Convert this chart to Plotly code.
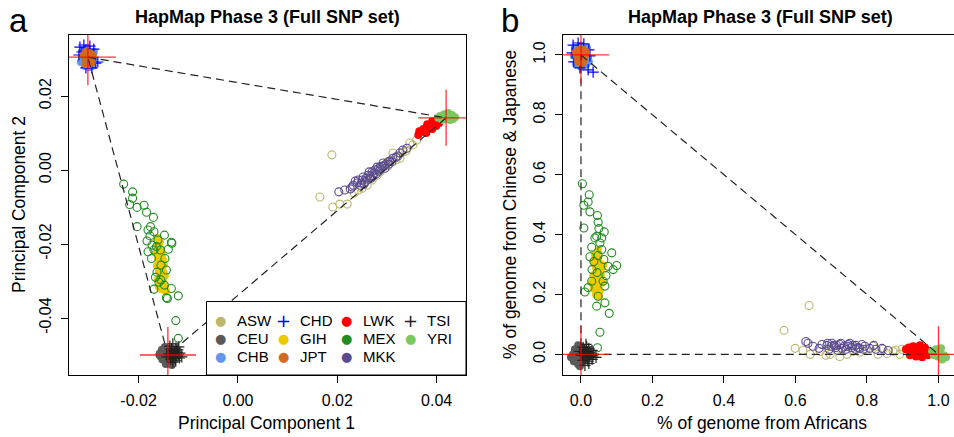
import plotly.graph_objects as go

W, H = 954, 437
FONT = "Liberation Sans, Arial, Helvetica, sans-serif"

# ---------------- populations ----------------
POPS = ["ASW", "CEU", "CHB", "CHD", "GIH", "JPT", "LWK", "MEX", "MKK", "TSI", "YRI"]
COLORS = {"ASW": "#BDB76B", "CEU": "#5A5A5A", "CHB": "#6495ED", "CHD": "#0000FF",
          "GIH": "#EEC900", "JPT": "#D2691E", "LWK": "#FF0000", "MEX": "#228B22",
          "MKK": "#5A4A8F", "TSI": "#222222", "YRI": "#79C95F"}
KIND = {"ASW": "open", "CEU": "fill", "CHB": "fill", "CHD": "plus", "GIH": "fill",
        "JPT": "fill", "LWK": "fill", "MEX": "open", "MKK": "open", "TSI": "plus", "YRI": "fill"}

# ---------------- panel a : principal components ----------------
a_asw_pc1 = [0.0189, 0.0165, 0.0191, 0.0205, 0.0220, 0.0242, 0.0260, 0.0280, 0.0296, 0.0312, 0.0332,
             0.0346, 0.0360, 0.0352, 0.0250, 0.0270, 0.0286, 0.0318, 0.0338, 0.0234, 0.0302, 0.0326]
a_asw_pc2 = [0.0041, -0.0073, -0.0100, -0.0092, -0.0092, -0.0054, -0.0041, -0.0014, 0.0014, 0.0046, 0.0049,
             0.0073, 0.0081, 0.0068, -0.0049, -0.0027, -0.0005, 0.0027, 0.0051, -0.0062, 0.0011, 0.0032]

a_ceu_pc1 = [-0.0153, -0.0147, -0.0141, -0.0151, -0.0145, -0.0139, -0.0149, -0.0143, -0.0135, -0.0155,
             -0.0137, -0.0145, -0.0133, -0.0157, -0.0148, -0.0152, -0.0140, -0.0146, -0.0158]
a_ceu_pc2 = [-0.0486, -0.0478, -0.0484, -0.0500, -0.0495, -0.0503, -0.0511, -0.0516, -0.0508, -0.0505,
             -0.0492, -0.0524, -0.0527, -0.0495, -0.0490, -0.0512, -0.0495, -0.0505, -0.0500]

a_chb_pc1 = [-0.0312, -0.0304, -0.0314, -0.0292, -0.0308, -0.0290, -0.0298, -0.0294, -0.0316, -0.0296]
a_chb_pc2 = [0.0324, 0.0330, 0.0305, 0.0300, 0.0281, 0.0319, 0.0278, 0.0281, 0.0292, 0.0286]

a_chd_pc1 = [-0.0318, -0.0310, -0.0314, -0.0298, -0.0286, -0.0282, -0.0306, -0.0294, -0.0320, -0.0290]
a_chd_pc2 = [0.0332, 0.0338, 0.0319, 0.0335, 0.0289, 0.0292, 0.0276, 0.0276, 0.0311, 0.0327]

a_gih_pc1 = [-0.0161, -0.0157, -0.0163, -0.0155, -0.0159, -0.0153, -0.0161, -0.0151, -0.0157, -0.0163,
             -0.0153, -0.0159, -0.0149, -0.0155, -0.0161, -0.0151, -0.0157, -0.0147, -0.0153, -0.0145,
             -0.0159, -0.0149, -0.0165, -0.0147]
a_gih_pc2 = [-0.0184, -0.0195, -0.0205, -0.0214, -0.0222, -0.0230, -0.0238, -0.0243, -0.0251, -0.0259,
             -0.0265, -0.0273, -0.0278, -0.0286, -0.0295, -0.0300, -0.0308, -0.0314, -0.0322, -0.0327,
             -0.0316, -0.0257, -0.0224, -0.0286]

a_jpt_pc1 = [-0.0306, -0.0298, -0.0302, -0.0308, -0.0296, -0.0304, -0.0294, -0.0310, -0.0300, -0.0292,
             -0.0306, -0.0298]
a_jpt_pc2 = [0.0319, 0.0316, 0.0308, 0.0303, 0.0303, 0.0295, 0.0292, 0.0311, 0.0286, 0.0311, 0.0286, 0.0297]

a_lwk_pc1 = [0.0363, 0.0369, 0.0375, 0.0379, 0.0385, 0.0389, 0.0395, 0.0401, 0.0407, 0.0413, 0.0373,
             0.0381, 0.0391, 0.0399, 0.0365, 0.0405, 0.0379, 0.0391]
a_lwk_pc2 = [0.0095, 0.0103, 0.0105, 0.0114, 0.0116, 0.0122, 0.0124, 0.0130, 0.0135, 0.0138, 0.0111,
             0.0124, 0.0132, 0.0119, 0.0105, 0.0127, 0.0100, 0.0111]

a_mex_pc1 = [-0.0230, -0.0212, -0.0212, -0.0218, -0.0203, -0.0189, -0.0184, -0.0170, -0.0203, -0.0176,
             -0.0181, -0.0169, -0.0148, -0.0183, -0.0161, -0.0134, -0.0181, -0.0169, -0.0156, -0.0140,
             -0.0174, -0.0147, -0.0166, -0.0144, -0.0155, -0.0148, -0.0169, -0.0134, -0.0144, -0.0120,
             -0.0125, -0.0120, -0.0164, -0.0133, -0.0142, -0.0155, -0.0163, -0.0177, -0.0173, -0.0159]
a_mex_pc2 = [-0.0038, -0.0059, -0.0076, -0.0093, -0.0101, -0.0095, -0.0114, -0.0128, -0.0153, -0.0153,
             -0.0162, -0.0167, -0.0176, -0.0192, -0.0189, -0.0195, -0.0221, -0.0216, -0.0216, -0.0214,
             -0.0239, -0.0239, -0.0290, -0.0270, -0.0297, -0.0311, -0.0322, -0.0320, -0.0345, -0.0340,
             -0.0407, -0.0455, -0.0207, -0.0198, -0.0347, -0.0257, -0.0276, -0.0178, -0.0203, -0.0303]

a_mkk_pc1 = [0.0203, 0.0226, 0.0232, 0.0242, 0.0252, 0.0262, 0.0270, 0.0276, 0.0286, 0.0292, 0.0302,
             0.0312, 0.0326, 0.0332, 0.0240, 0.0250, 0.0258, 0.0266, 0.0274, 0.0282, 0.0290, 0.0298,
             0.0306, 0.0318, 0.0246, 0.0256, 0.0268, 0.0278, 0.0296, 0.0310, 0.0322, 0.0340, 0.0215, 0.0264,
             0.0236, 0.0248, 0.0260, 0.0272, 0.0284, 0.0294, 0.0304, 0.0254, 0.0280, 0.0230]
a_mkk_pc2 = [-0.0059, -0.0051, -0.0041, -0.0027, -0.0019, -0.0014, -0.0005, 0.0000, 0.0008, 0.0019, 0.0022,
             0.0032, 0.0046, 0.0054, -0.0035, -0.0027, -0.0022, -0.0016, -0.0008, 0.0003, 0.0011, 0.0016,
             0.0024, 0.0035, -0.0041, -0.0032, -0.0022, -0.0011, 0.0005, 0.0022, 0.0038, 0.0059, -0.0054, -0.0005,
             -0.0030, -0.0035, -0.0027, -0.0016, -0.0003, 0.0011, 0.0016, -0.0038, 0.0008, -0.0046]

a_tsi_pc1 = [-0.0137, -0.0131, -0.0125, -0.0133, -0.0127, -0.0121, -0.0139, -0.0129, -0.0123, -0.0117,
             -0.0135, -0.0125, -0.0113, -0.0143, -0.0131, -0.0119, -0.0128, -0.0122, -0.0130, -0.0134,
             -0.0126, -0.0120, -0.0136, -0.0132, -0.0124, -0.0118]
a_tsi_pc2 = [-0.0476, -0.0470, -0.0481, -0.0489, -0.0495, -0.0486, -0.0497, -0.0505, -0.0503, -0.0495,
             -0.0511, -0.0516, -0.0505, -0.0505, -0.0519, -0.0478, -0.0490, -0.0492, -0.0498, -0.0483,
             -0.0510, -0.0500, -0.0502, -0.0508, -0.0487, -0.0508]

a_yri_pc1 = [0.0407, 0.0415, 0.0423, 0.0431, 0.0437, 0.0419, 0.0427, 0.0411, 0.0433, 0.0421, 0.0403]
a_yri_pc2 = [0.0146, 0.0151, 0.0154, 0.0149, 0.0143, 0.0141, 0.0135, 0.0135, 0.0138, 0.0146, 0.0141]

a_vertex_pc1 = [-0.0302, 0.0419, -0.0141]
a_vertex_pc2 = [0.0305, 0.0141, -0.0500]

# ---------------- panel b : ancestry proportions ----------------
b_asw_afr = [0.638, 0.568, 0.599, 0.621, 0.641, 0.697, 0.724, 0.817, 0.845, 0.873, 0.892, 0.744, 0.780,
             0.856, 0.881, 0.669, 0.797, 0.898, 0.685, 0.761, 0.831]
b_asw_eas = [0.163, 0.080, 0.020, 0.013, 0.000, 0.000, -0.007, 0.027, 0.017, 0.010, 0.000, 0.000, 0.007,
             0.003, 0.013, 0.010, 0.017, 0.017, -0.003, 0.010, 0.000]

b_ceu_afr = [-0.017, -0.008, -0.022, -0.011, -0.003, -0.014, -0.006, -0.020, -0.008, 0.003, 0.006, -0.028,
             -0.003, -0.010, -0.015, -0.005, -0.012, 0.000, -0.018]
b_ceu_eas = [0.017, 0.030, 0.000, 0.007, 0.017, -0.013, -0.007, -0.023, -0.033, -0.020, 0.010, -0.010,
             -0.040, 0.000, 0.010, -0.015, -0.025, 0.025, -0.003]

b_chb_afr = [-0.017, -0.003, 0.017, -0.020, 0.020, -0.014, 0.014, 0.000, 0.022]
b_chb_eas = [1.023, 1.030, 1.023, 0.997, 0.990, 0.970, 0.967, 0.960, 0.977]

b_chd_afr = [-0.022, -0.008, 0.008, 0.022, -0.025, -0.003, 0.020, 0.034, -0.020, 0.025]
b_chd_eas = [1.033, 1.040, 1.037, 1.017, 1.007, 0.957, 0.950, 0.943, 0.977, 0.997]

b_gih_afr = [0.039, 0.048, 0.036, 0.053, 0.042, 0.056, 0.045, 0.034, 0.050, 0.039, 0.059, 0.045, 0.036,
             0.053, 0.042, 0.062, 0.048, 0.031, 0.050, 0.056]
b_gih_eas = [0.333, 0.323, 0.310, 0.303, 0.290, 0.283, 0.273, 0.263, 0.257, 0.247, 0.240, 0.230, 0.220,
             0.213, 0.200, 0.297, 0.347, 0.240, 0.193, 0.263]

b_jpt_afr = [-0.006, 0.006, 0.000, -0.011, 0.011, -0.003, 0.008, -0.014, 0.014, 0.003, -0.008]
b_jpt_eas = [1.017, 1.017, 1.003, 0.997, 0.997, 0.987, 0.983, 1.010, 1.010, 0.973, 0.977]

b_lwk_afr = [0.909, 0.917, 0.926, 0.934, 0.943, 0.951, 0.959, 0.968, 0.920, 0.937, 0.954, 0.970, 0.929,
             0.948, 0.962]
b_lwk_eas = [0.017, 0.023, 0.010, 0.020, 0.007, 0.017, 0.003, 0.013, -0.003, -0.007, -0.010, -0.003,
             0.027, 0.030, 0.023]

b_mex_afr = [0.004, 0.023, 0.020, 0.008, 0.025, 0.046, 0.048, 0.008, 0.065, 0.039, 0.058, 0.030, 0.053,
             0.058, 0.025, 0.048, 0.086, 0.100, 0.076, 0.090, 0.030, 0.062, 0.011, 0.067, 0.048, 0.044,
             0.067, 0.079, 0.053, 0.046, 0.044, 0.036, 0.045, 0.064, 0.031, 0.070, 0.050, 0.020]
b_mex_eas = [0.570, 0.533, 0.509, 0.498, 0.476, 0.464, 0.441, 0.422, 0.409, 0.389, 0.389, 0.358, 0.372,
             0.350, 0.326, 0.330, 0.339, 0.297, 0.294, 0.283, 0.244, 0.244, 0.208, 0.228, 0.194, 0.161,
             0.172, 0.137, 0.074, 0.022, 0.394, 0.310, 0.273, 0.317, 0.283, 0.263, 0.420, 0.223]

b_mkk_afr = [0.629, 0.635, 0.649, 0.674, 0.688, 0.702, 0.713, 0.724, 0.736, 0.747, 0.758, 0.769, 0.780,
             0.794, 0.808, 0.825, 0.842, 0.859, 0.694, 0.719, 0.741, 0.708, 0.752, 0.666, 0.786, 0.819,
             0.700, 0.715, 0.730, 0.745, 0.760, 0.775, 0.790, 0.727, 0.690, 0.768]
b_mkk_eas = [0.043, 0.037, 0.027, 0.033, 0.030, 0.037, 0.023, 0.033, 0.027, 0.033, 0.023, 0.030, 0.020,
             0.027, 0.020, 0.017, 0.020, 0.013, 0.017, 0.013, 0.017, 0.030, 0.037, 0.020, 0.033, 0.030,
             0.027, 0.030, 0.020, 0.027, 0.030, 0.023, 0.017, 0.037, 0.037, 0.017]

b_tsi_afr = [0.006, 0.014, 0.022, 0.008, 0.020, 0.031, 0.000, 0.014, 0.025, 0.036, 0.006, 0.020, 0.031,
             0.011, 0.042, -0.003, 0.010, 0.017, 0.025, 0.012, 0.018, 0.028, 0.004, 0.033, 0.016, 0.022]
b_tsi_eas = [0.023, 0.033, 0.020, 0.007, 0.003, 0.013, -0.003, -0.010, -0.007, 0.000, -0.020, -0.023,
             -0.017, -0.037, -0.010, 0.010, 0.015, 0.010, 0.007, -0.003, -0.015, 0.000, 0.000, -0.005,
             0.025, -0.030]

b_yri_afr = [0.982, 0.993, 1.004, 1.015, 0.998, 0.987, 1.010, 1.021, 0.996, 1.007]
b_yri_eas = [0.010, 0.017, 0.007, -0.003, -0.007, -0.003, -0.017, -0.010, 0.003, 0.020]

b_vertex_afr = [0.0, 1.0, 0.0]
b_vertex_eas = [1.0, 0.0, 0.0]

# ---------------- ticks / text ----------------
a_xticks = [-0.02, 0.0, 0.02, 0.04]
a_xtick_text = ["-0.02", "0.00", "0.02", "0.04"]
a_yticks = [-0.04, -0.02, 0.0, 0.02]
a_ytick_text = ["-0.04", "-0.02", "0.00", "0.02"]
b_ticks = [0.0, 0.2, 0.4, 0.6, 0.8, 1.0]
b_tick_text = ["0.0", "0.2", "0.4", "0.6", "0.8", "1.0"]
TITLE = "HapMap Phase 3 (Full SNP set)"

A = {"ASW": (a_asw_pc1, a_asw_pc2), "CEU": (a_ceu_pc1, a_ceu_pc2), "CHB": (a_chb_pc1, a_chb_pc2),
     "CHD": (a_chd_pc1, a_chd_pc2), "GIH": (a_gih_pc1, a_gih_pc2), "JPT": (a_jpt_pc1, a_jpt_pc2),
     "LWK": (a_lwk_pc1, a_lwk_pc2), "MEX": (a_mex_pc1, a_mex_pc2), "MKK": (a_mkk_pc1, a_mkk_pc2),
     "TSI": (a_tsi_pc1, a_tsi_pc2), "YRI": (a_yri_pc1, a_yri_pc2)}
B = {"ASW": (b_asw_afr, b_asw_eas), "CEU": (b_ceu_afr, b_ceu_eas), "CHB": (b_chb_afr, b_chb_eas),
     "CHD": (b_chd_afr, b_chd_eas), "GIH": (b_gih_afr, b_gih_eas), "JPT": (b_jpt_afr, b_jpt_eas),
     "LWK": (b_lwk_afr, b_lwk_eas), "MEX": (b_mex_afr, b_mex_eas), "MKK": (b_mkk_afr, b_mkk_eas),
     "TSI": (b_tsi_afr, b_tsi_eas), "YRI": (b_yri_afr, b_yri_eas)}


def px(x):
    return x / W


def py(y):
    return 1 - y / H


def marker_for(pop):
    k = KIND[pop]
    c = COLORS[pop]
    if k == "open":
        return dict(symbol="circle-open", size=8, color=c, line=dict(width=1.1, color=c))
    if k == "plus":
        return dict(symbol="cross-thin-open", size=8, color=c, line=dict(width=1.2, color=c))
    return dict(symbol="circle", size=8, color=c, line=dict(width=0))


fig = go.Figure()
for pop in POPS:
    xs, ys = A[pop]
    fig.add_trace(go.Scatter(x=xs, y=ys, mode="markers", marker=marker_for(pop),
                             xaxis="x", yaxis="y", showlegend=False, hoverinfo="skip"))
    xs, ys = B[pop]
    fig.add_trace(go.Scatter(x=xs, y=ys, mode="markers", marker=marker_for(pop),
                             xaxis="x2", yaxis="y2", showlegend=False, hoverinfo="skip"))

dash = dict(color="#222222", width=1.2, dash="8px,5px")
# triangle in panel a
fig.add_trace(go.Scatter(x=a_vertex_pc1 + a_vertex_pc1[:1], y=a_vertex_pc2 + a_vertex_pc2[:1],
                         mode="lines", line=dash, xaxis="x", yaxis="y", showlegend=False, hoverinfo="skip"))
# triangle in panel b
fig.add_trace(go.Scatter(x=b_vertex_afr + b_vertex_afr[:1], y=b_vertex_eas + b_vertex_eas[:1],
                         mode="lines", line=dash, xaxis="x2", yaxis="y2", showlegend=False, hoverinfo="skip"))

cross = dict(symbol="cross-thin-open", size=40, color="rgba(255,0,0,0.8)",
             line=dict(width=1.3, color="rgba(255,0,0,0.8)"))
fig.add_trace(go.Scatter(x=a_vertex_pc1, y=a_vertex_pc2, mode="markers", marker=cross,
                         xaxis="x", yaxis="y", showlegend=False, hoverinfo="skip"))
fig.add_trace(go.Scatter(x=b_vertex_afr, y=b_vertex_eas, mode="markers", marker=cross,
                         xaxis="x2", yaxis="y2", showlegend=False, hoverinfo="skip"))

# plot-area geometry (pixels)
AL, AR, BL, BR, TOP, BOT = 69, 466, 563, 954, 35, 375

axis_common = dict(showgrid=False, zeroline=False, showline=True, linecolor="black", linewidth=1,
                   mirror=True, ticks="outside", ticklen=7, tickwidth=1, tickcolor="black",
                   tickfont=dict(family=FONT, size=16, color="black"), ticklabelstandoff=4)

fig.update_layout(
    width=W, height=H, margin=dict(l=0, r=0, t=0, b=0),
    paper_bgcolor="white", plot_bgcolor="white", showlegend=False,
    font=dict(family=FONT, color="black"),
    xaxis=dict(domain=[px(AL), px(AR)], range=[-0.0340, 0.0459], tickmode="array",
               tickvals=a_xticks, ticktext=a_xtick_text, anchor="y", **axis_common),
    yaxis=dict(domain=[py(BOT), py(TOP)], range=[-0.0554, 0.0365], tickmode="array",
               tickvals=a_yticks, ticktext=a_ytick_text, tickangle=-90, anchor="x", **axis_common),
    xaxis2=dict(domain=[px(BL), px(BR)], range=[-0.0503, 1.0434], tickmode="array",
                tickvals=b_ticks, ticktext=b_tick_text, anchor="y2", **axis_common),
    yaxis2=dict(domain=[py(BOT), py(TOP)], range=[-0.0690, 1.0667], tickmode="array",
                tickvals=b_ticks, ticktext=b_tick_text, tickangle=-90, anchor="x2", **axis_common),
)

ann = []
# panel titles, letters, axis titles
ann.append(dict(x=px(267.5), y=py(17), text="<b>" + TITLE + "</b>", font=dict(size=18)))
ann.append(dict(x=px(760), y=py(17), text="<b>" + TITLE + "</b>", font=dict(size=18)))
ann.append(dict(x=px(18), y=py(21), text="a", font=dict(size=33)))
ann.append(dict(x=px(510), y=py(21), text="b", font=dict(size=33)))
ann.append(dict(x=px(266.5), y=py(423), text="Principal Component 1", font=dict(size=17.5)))
ann.append(dict(x=px(19), y=py(205), text="Principal Component 2", textangle=-90, font=dict(size=17.5)))
ann.append(dict(x=px(762), y=py(423), text="% of genome from Africans", font=dict(size=17.5)))
ann.append(dict(x=px(510), y=py(205), text="% of genome from Chinese &amp; Japanese", textangle=-90,
                font=dict(size=17.5)))

# legend (4 columns x 3 rows, column-major)
LEG_L, LEG_T = 206.5, 301.5
col_sym = [220, 283.3, 346.7, 410]
row_y = [320, 338.3, 356.7]
for i, pop in enumerate(POPS):
    c, r = divmod(i, 3)
    sym = "+" if KIND[pop] == "plus" else "●"
    ssize = 18 if sym == "+" else 13
    ann.append(dict(x=px(col_sym[c]), y=py(row_y[r]), text=sym,
                    font=dict(size=ssize, color=COLORS[pop], family="DejaVu Sans"),
                    xanchor="center", yanchor="middle"))
    ann.append(dict(x=px(col_sym[c] + 14.5), y=py(row_y[r]), text=pop, font=dict(size=15),
                    xanchor="left", yanchor="middle"))

for a in ann:
    a.setdefault("xref", "paper")
    a.setdefault("yref", "paper")
    a.setdefault("showarrow", False)
    a.setdefault("xanchor", "center")
    a.setdefault("yanchor", "middle")
    a["font"] = dict(family=a["font"].get("family", FONT), size=a["font"]["size"],
                     color=a["font"].get("color", "black"))
fig.update_layout(annotations=ann)

fig.update_layout(shapes=[dict(type="rect", xref="paper", yref="paper", x0=px(LEG_L), x1=px(AR),
                               y0=py(BOT), y1=py(LEG_T), fillcolor="white",
                               line=dict(color="black", width=1), layer="above")])

fig.write_html("out.html", config={"displayModeBar": False},
               post_script="document.body.style.margin='0';document.body.style.overflow='hidden';")
